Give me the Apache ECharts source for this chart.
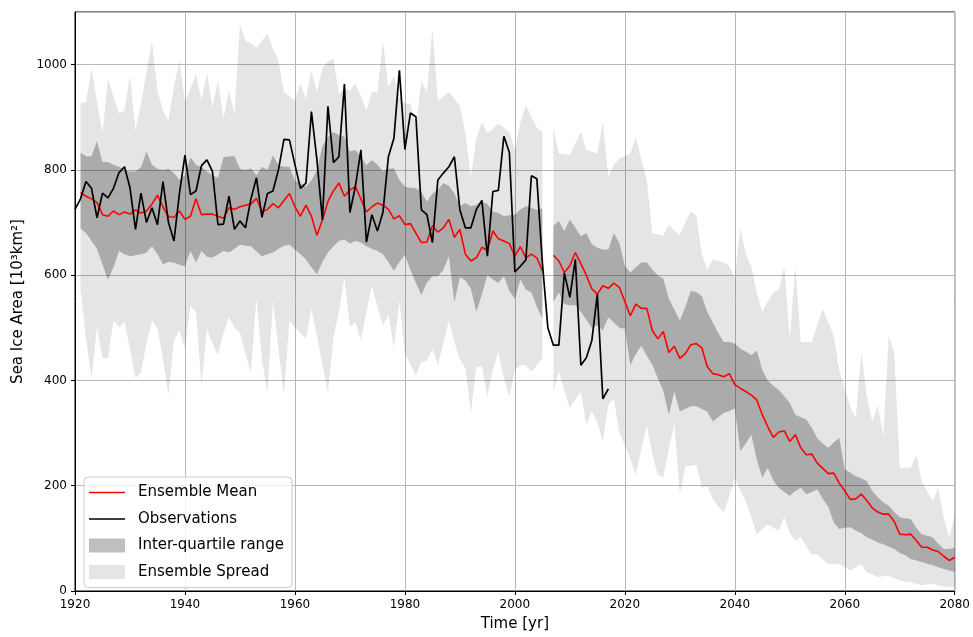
<!DOCTYPE html>
<html>
<head>
<meta charset="utf-8">
<title>Sea Ice Area</title>
<script src="https://cdn.jsdelivr.net/npm/echarts@6/dist/echarts.min.js"></script>
<style>
  html, body { margin: 0; padding: 0; background: #fff; }
  #chart { width: 973px; height: 637px; }
</style>
</head>
<body>
<div id="chart"></div>
<script>
// Historical ensemble period (1921-2005) and projection period (2007-2080)
const histStart = 1921;
const projStart = 2007;
const obsStart = 1920;

const meanHist = [
  757, 750, 745, 738, 715, 712, 722, 715, 720, 716,
  724, 718, 722, 735, 752, 730, 711, 710, 722, 706,
  712, 745, 715, 716, 716, 712, 708, 728, 725, 730,
  733, 735, 746, 720, 725, 736, 728, 742, 755, 730,
  712, 733, 712, 676, 705, 740, 760, 775, 750, 762,
  768, 745, 720, 730, 737, 733, 725, 707, 713, 696,
  698, 680, 662, 663, 694, 682, 690, 706, 672, 687,
  640, 627, 633, 653, 647, 684, 669, 665, 660, 636,
  654, 633, 640, 633, 608
];
const iqrHighHist = [
  833, 826, 826, 855, 815, 815, 810, 806, 800, 797,
  797, 805, 835, 810, 802, 800, 802, 794, 781, 790,
  824, 810, 805, 797, 790, 785, 824, 826, 826, 802,
  800, 803, 790, 806, 800, 828, 809, 806, 806, 780,
  775, 768, 780, 800, 845, 862, 872, 866, 863, 835,
  838, 825, 809, 819, 810, 797, 802, 803, 781, 768,
  766, 765, 758, 740, 755, 762, 775, 770, 755, 731,
  737, 731, 734, 740, 735, 721, 718, 712, 714, 715,
  725, 731, 728, 724, 727
];
const iqrLowHist = [
  688, 680, 665, 650, 620, 592, 615, 646, 640, 636,
  638, 640, 643, 655, 640, 621, 625, 624, 620, 617,
  646, 624, 646, 635, 633, 640, 646, 643, 650, 658,
  656, 655, 645, 636, 640, 643, 650, 656, 658, 649,
  640, 630, 615, 602, 625, 643, 655, 665, 668, 660,
  665, 662, 655, 650, 646, 640, 625, 608, 625, 639,
  610, 585, 562, 586, 598, 598, 610, 636, 549, 596,
  590, 574, 530, 564, 600, 592, 585, 598, 570, 555,
  592, 573, 567, 540, 517
];
const spreadHighHist = [
  926, 929, 992, 930, 869, 973, 940, 907, 913, 979,
  875, 926, 985, 1045, 950, 913, 894, 960, 1008, 929,
  955, 982, 932, 985, 919, 970, 898, 951, 907, 1077,
  1045, 1040, 1032, 1045, 1058, 1030, 1008, 948, 940, 932,
  964, 935, 989, 948, 995, 1005, 1011, 945, 955, 951,
  964, 940, 913, 948, 948, 1045, 957, 979, 938, 926,
  926, 882, 970, 948, 1067, 932, 940, 948, 935, 922,
  870, 787, 860, 891, 869, 878, 888, 880, 872, 838,
  890, 923, 901, 880, 872
];
const spreadLowHist = [
  573, 480, 404, 501, 442, 442, 514, 501, 511, 460,
  404, 416, 470, 514, 498, 440, 372, 476, 495, 460,
  542, 530, 391, 498, 470, 448, 490, 520, 500, 490,
  450, 416, 555, 440, 375, 551, 460, 372, 514, 500,
  490, 479, 536, 485, 430, 375, 480, 530, 595, 501,
  511, 476, 530, 580, 540, 504, 526, 463, 549, 451,
  430, 410, 435, 438, 460, 430, 470, 514, 473, 440,
  423, 338, 426, 426, 369, 420, 454, 404, 369, 420,
  429, 429, 417, 429, 441
];

const meanProj = [
  638, 627, 605, 618, 643, 622, 600, 574, 564, 580,
  575, 585, 577, 550, 523, 545, 537, 537, 495, 479,
  493, 453, 465, 442, 451, 468, 470, 462, 426, 413,
  411, 407, 413, 392, 385, 379, 372, 363, 335, 312,
  292, 302, 304, 284, 297, 272, 259, 260, 243, 233,
  223, 224, 205, 190, 174, 175, 184, 172, 158, 150,
  146, 146, 132, 108, 107, 108, 96, 83, 83, 78,
  75, 66, 58, 64
];
const iqrHighProj = [
  694, 703, 684, 706, 690, 674, 680, 659, 652, 649,
  649, 680, 661, 618, 605, 615, 624, 624, 611, 600,
  593, 555, 535, 514, 540, 570, 568, 560, 530, 510,
  490, 473, 473, 470, 460, 455, 448, 457, 420, 400,
  390, 382, 370, 357, 335, 330, 326, 310, 290, 280,
  272, 282, 291, 231, 225, 218, 214, 209, 190, 178,
  168, 162, 150, 140, 138, 137, 120, 108, 105, 102,
  90, 80, 80, 82
];
const iqrLowProj = [
  549, 567, 545, 543, 543, 530, 515, 500, 505, 495,
  520, 510, 500, 498, 429, 450, 466, 447, 430, 404,
  380, 335, 379, 341, 346, 351, 351, 346, 341, 322,
  330, 338, 342, 347, 266, 280, 297, 250, 215, 234,
  210, 196, 188, 181, 190, 196, 184, 188, 193, 175,
  160, 130, 118, 120, 121, 115, 110, 102, 98, 92,
  89, 84, 80, 72, 68, 61, 58, 55, 52, 49,
  45, 42, 39, 36
];
const spreadHighProj = [
  878, 831, 830, 828, 850, 872, 838, 835, 831, 891,
  787, 810, 822, 826, 831, 863, 820, 781, 680, 678,
  675, 696, 685, 677, 700, 721, 714, 640, 611, 630,
  627, 624, 617, 596, 690, 640, 617, 567, 530, 550,
  567, 573, 617, 479, 617, 473, 473, 473, 505, 536,
  510, 485, 420, 385, 350, 328, 454, 372, 321, 353,
  296, 485, 454, 234, 234, 234, 259, 208, 190, 171,
  196, 140, 101, 145
];
const spreadLowProj = [
  379, 417, 380, 347, 365, 379, 316, 341, 320, 284,
  354, 366, 300, 278, 250, 221, 270, 315, 260, 221,
  215, 270, 318, 184, 237, 238, 240, 196, 199, 175,
  160, 149, 180, 215, 190, 171, 140, 108, 118, 127,
  120, 115, 140, 110, 96, 102, 85, 70, 70, 60,
  51, 51, 51, 45, 39, 45, 51, 35, 32, 26,
  28, 29, 24, 20, 18, 17, 14, 11, 13, 14,
  10, 8, 8, 8
];

const observations = [
  725, 745, 778, 765, 709, 756, 747, 765, 795, 806,
  766, 687, 756, 700, 728, 696, 778, 700, 665, 756,
  828, 753, 760, 808, 819, 797, 696, 697, 750, 687,
  703, 690, 745, 785, 710, 755, 760, 800, 858, 857,
  810, 765, 775, 911, 819, 705, 921, 814, 825, 963,
  719, 769, 838, 663, 715, 684, 719, 825, 860, 989,
  839, 908, 901, 724, 715, 662, 781, 794, 806, 825,
  724, 690, 690, 725, 742, 636, 759, 761, 864, 833,
  606, 617, 629, 789, 783, 624, 500, 467, 467, 604,
  558, 630, 429, 443, 476, 564, 365, 384
];

const xTicks = { min: 1920, max: 2080, step: 20 };
const yTicks = { min: 0, max: 1100, step: 200 };

// Pair each value with its year
function pairs(start, values) {
  return values.map((v, i) => [start + i, v]);
}

const SPREAD_COLOR = 'rgba(0,0,0,0.1)';
const IQR_COLOR = 'rgba(0,0,0,0.25)';
const FONT = 'DejaVu Sans';

// A filled band between two edges, drawn as one polygon through the axis scales
function bandSeries(name, start, low, high, color, z) {
  const rows = low.map((l, i) => [start + i, l, high[i]]);
  return {
    name: name,
    type: 'custom',
    coordinateSystem: 'cartesian2d',
    data: rows,
    encode: { x: 0, y: [1, 2] },
    itemStyle: { color: color },
    silent: true,
    clip: true,
    z: z,
    renderItem: function (params, api) {
      if (params.dataIndex !== 0) return null;
      const pts = [];
      for (let i = 0; i < rows.length; i++) pts.push(api.coord([rows[i][0], rows[i][2]]));
      for (let i = rows.length - 1; i >= 0; i--) pts.push(api.coord([rows[i][0], rows[i][1]]));
      return {
        type: 'polygon',
        shape: { points: pts },
        style: { fill: color, stroke: null }
      };
    }
  };
}

const lineIcon = 'path://M0,0H36V1.7H0Z';

const series = [
  bandSeries('Ensemble Spread', histStart, spreadLowHist, spreadHighHist, SPREAD_COLOR, 2),
  bandSeries('Ensemble Spread', projStart, spreadLowProj, spreadHighProj, SPREAD_COLOR, 2),
  bandSeries('Inter-quartile range', histStart, iqrLowHist, iqrHighHist, IQR_COLOR, 3),
  bandSeries('Inter-quartile range', projStart, iqrLowProj, iqrHighProj, IQR_COLOR, 3),
  {
    name: 'Ensemble Mean',
    type: 'line',
    data: pairs(histStart, meanHist),
    symbol: 'none',
    lineStyle: { color: '#ff0000', width: 1.6 },
    itemStyle: { color: '#ff0000' },
    z: 4
  },
  {
    name: 'Ensemble Mean',
    type: 'line',
    data: pairs(projStart, meanProj),
    symbol: 'none',
    lineStyle: { color: '#ff0000', width: 1.6 },
    itemStyle: { color: '#ff0000' },
    z: 4
  },
  {
    name: 'Observations',
    type: 'line',
    data: pairs(obsStart, observations),
    symbol: 'none',
    lineStyle: { color: '#000000', width: 1.7 },
    itemStyle: { color: '#000000' },
    z: 5
  }
];

const chart = echarts.init(document.getElementById('chart'), null, { renderer: 'canvas' });
chart.setOption({
  animation: false,
  backgroundColor: '#ffffff',
  textStyle: { fontFamily: FONT },
  grid: {
    left: 75, right: 18, top: 12, bottom: 43,
    show: true, borderColor: '#000', borderWidth: 1, backgroundColor: 'transparent'
  },
  xAxis: {
    type: 'value',
    min: xTicks.min, max: xTicks.max, interval: xTicks.step,
    name: 'Time [yr]',
    nameLocation: 'middle',
    nameGap: 26,
    nameTextStyle: { fontSize: 15, color: '#000', fontFamily: FONT },
    axisLine: { show: true, onZero: false, lineStyle: { color: '#000', width: 1 } },
    axisTick: { show: true, length: 4, lineStyle: { color: '#000' } },
    axisLabel: { fontSize: 12, color: '#000', margin: 8, fontFamily: FONT, formatter: v => String(v) },
    splitLine: { show: true, lineStyle: { color: '#b8b8b8', width: 1 } }
  },
  yAxis: {
    type: 'value',
    min: yTicks.min, max: yTicks.max, interval: yTicks.step,
    name: 'Sea Ice Area [10³km²]',
    nameLocation: 'middle',
    nameGap: 47,
    nameRotate: 90,
    nameTextStyle: { fontSize: 15, color: '#000', fontFamily: FONT },
    axisLine: { show: true, onZero: false, lineStyle: { color: '#000', width: 1 } },
    axisTick: { show: true, length: 4, lineStyle: { color: '#000' } },
    axisLabel: { fontSize: 12, color: '#000', margin: 8, showMaxLabel: false, fontFamily: FONT, formatter: v => String(v) },
    splitLine: { show: true, lineStyle: { color: '#b8b8b8', width: 1 } }
  },
  legend: {
    orient: 'vertical',
    left: 84,
    top: 477,
    padding: [8, 8, 8, 5],
    itemWidth: 36,
    itemHeight: 14,
    itemGap: 11.5,
    symbolKeepAspect: true,
    backgroundColor: 'rgba(255,255,255,0.8)',
    borderColor: '#cccccc',
    borderWidth: 1,
    borderRadius: 4,
    selectedMode: false,
    textStyle: { fontSize: 15, color: '#000', fontFamily: FONT, lineHeight: 14, padding: [0, 0, 0, 8] },
    data: [
      { name: 'Ensemble Mean', icon: lineIcon, itemStyle: { color: '#ff0000' } },
      { name: 'Observations', icon: lineIcon, itemStyle: { color: '#000000' } },
      { name: 'Inter-quartile range', icon: 'rect', itemStyle: { color: IQR_COLOR } },
      { name: 'Ensemble Spread', icon: 'rect', itemStyle: { color: SPREAD_COLOR } }
    ]
  },
  series: series
});
</script>
</body>
</html>
